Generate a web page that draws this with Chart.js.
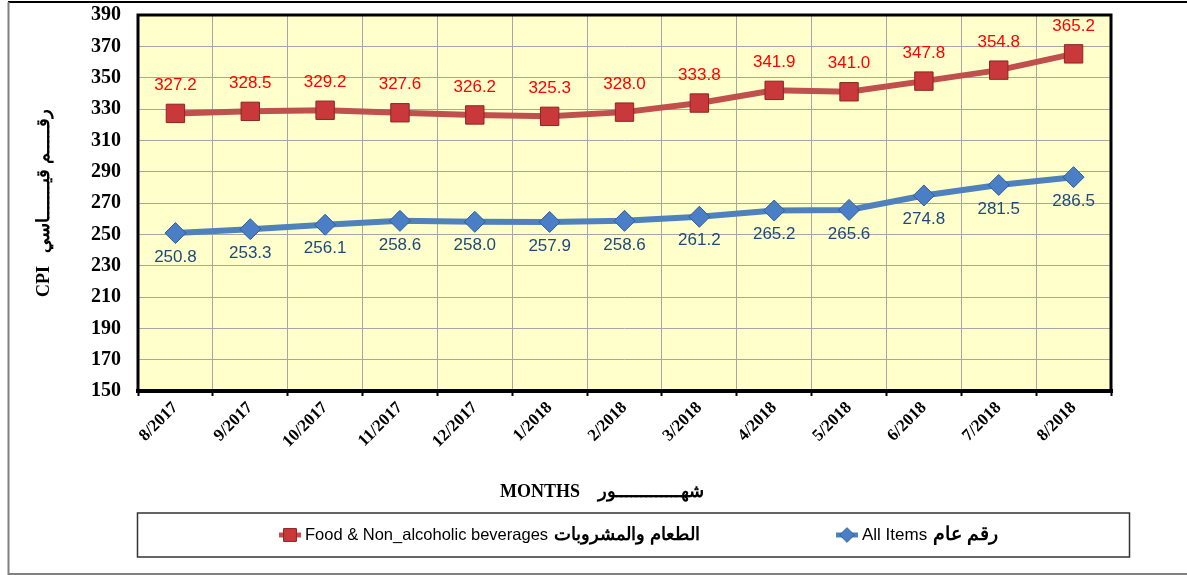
<!DOCTYPE html>
<html>
<head>
<meta charset="utf-8">
<title>CPI</title>
<script src="https://cdn.jsdelivr.net/npm/chart.js@4.4.1/dist/chart.umd.min.js"></script>
<style>
  html, body { margin: 0; padding: 0; background: #fff; }
  canvas { display: block; }
</style>
</head>
<body>
<canvas id="cpiChart" width="1187" height="575"></canvas>
<script>
// chart data
const months = ["8/2017", "9/2017", "10/2017", "11/2017", "12/2017", "1/2018", "2/2018",
                "3/2018", "4/2018", "5/2018", "6/2018", "7/2018", "8/2018"];
const foodValues = [327.2, 328.5, 329.2, 327.6, 326.2, 325.3, 328.0, 333.8, 341.9, 341.0, 347.8, 354.8, 365.2];
const allItemsValues = [250.8, 253.3, 256.1, 258.6, 258.0, 257.9, 258.6, 261.2, 265.2, 265.6, 274.8, 281.5, 286.5];
const seriesEn = ["Food & Non_alcoholic beverages", "All Items"];
const seriesAr = ["الطعام والمشروبات", "رقم عام"];
const yMin = 150, yMax = 390, yStep = 20;

const serif = "'Liberation Serif', 'Times New Roman', serif";
const sans = "'Liberation Sans', Arial, sans-serif";

// yellow plot background + frame around plot and outer border
const framePlugin = {
    id: 'frame',
    beforeDraw(chart) {
        const { ctx, chartArea: a } = chart;
        ctx.save();
        ctx.fillStyle = '#FFFFCC';
        ctx.fillRect(a.left, a.top, a.right - a.left, a.bottom - a.top);
        ctx.restore();
    },
    afterDraw(chart) {
        const { ctx, chartArea: a } = chart;
        ctx.save();
        ctx.strokeStyle = '#000';
        ctx.lineWidth = 3;
        ctx.strokeRect(a.left, a.top, a.right - a.left, a.bottom - a.top);
        ctx.lineWidth = 4;
        ctx.beginPath();
        ctx.moveTo(a.left - 2, a.bottom);
        ctx.lineTo(a.right + 2, a.bottom);
        ctx.stroke();

        // outer border
        ctx.lineWidth = 2;
        ctx.strokeStyle = '#000';
        ctx.beginPath();
        ctx.moveTo(8, 2);
        ctx.lineTo(1187, 2);
        ctx.stroke();
        ctx.strokeStyle = '#808080';
        ctx.beginPath();
        ctx.moveTo(8.5, 2);
        ctx.lineTo(8.5, 574);
        ctx.lineTo(1187, 574);
        ctx.stroke();
        ctx.restore();
    }
};

// value labels above / below points
const valueLabels = {
    id: 'valueLabels',
    afterDatasetsDraw(chart) {
        const { ctx } = chart;
        ctx.save();
        ctx.textAlign = 'center';
        ctx.textBaseline = 'middle';
        ctx.font = '17px ' + sans;
        chart.data.datasets.forEach((ds, i) => {
            const meta = chart.getDatasetMeta(i);
            ctx.fillStyle = ds.labelColor;
            meta.data.forEach((pt, j) => {
                ctx.fillText(ds.data[j].toFixed(1), pt.x, pt.y + ds.labelOffset);
            });
        });
        ctx.restore();
    }
};

// boxed legend at bottom
const boxLegend = {
    id: 'boxLegend',
    afterDraw(chart) {
        const { ctx } = chart;
        const xs = [290, 847];
        const enSize = [16.5, 17];
        const arSize = [18, 19];
        const y = 535;
        ctx.save();
        ctx.strokeStyle = '#333';
        ctx.lineWidth = 1.5;
        ctx.strokeRect(137.5, 513, 992, 44);
        chart.data.datasets.forEach((ds, i) => {
            const x = xs[i];
            ctx.strokeStyle = ds.borderColor;
            ctx.lineWidth = 5;
            ctx.beginPath();
            ctx.moveTo(x - 11, y);
            ctx.lineTo(x + 11, y);
            ctx.stroke();
            ctx.fillStyle = ds.pointBackgroundColor;
            ctx.strokeStyle = ds.pointBorderColor;
            ctx.lineWidth = 1;
            Chart.helpers.drawPoint(ctx, {
                pointStyle: ds.pointStyle, radius: ds.pointRadius * 0.7, rotation: 0, borderWidth: 1
            }, x, y);
            ctx.fillStyle = '#000';
            ctx.textBaseline = 'middle';
            ctx.textAlign = 'left';
            ctx.font = enSize[i] + 'px ' + sans;
            const tx = x + 15;
            ctx.fillText(seriesEn[i], tx, y);
            const w = ctx.measureText(seriesEn[i]).width;
            ctx.font = 'bold ' + arSize[i] + 'px ' + sans;
            ctx.fillText(seriesAr[i], tx + w + 6, y);
        });
        ctx.restore();
    }
};

const ctx = document.getElementById('cpiChart').getContext('2d');
const chart = new Chart(ctx, {
    type: 'line',
    data: {
        labels: months,
        datasets: [{
            label: seriesEn[0] + ' ' + seriesAr[0],
            data: foodValues,
            borderColor: '#C0504D',
            borderWidth: 6,
            pointStyle: 'rect',
            pointRadius: 13,
            pointBackgroundColor: '#C9383A',
            pointBorderColor: '#8E2426',
            pointBorderWidth: 1,
            labelColor: '#FF0000',
            labelOffset: -28,
            tension: 0
        }, {
            label: seriesEn[1] + ' ' + seriesAr[1],
            data: allItemsValues,
            borderColor: '#4F81BD',
            borderWidth: 6,
            pointStyle: 'rectRot',
            pointRadius: 10.5,
            pointBackgroundColor: '#4A7FC8',
            pointBorderColor: '#2E5E98',
            pointBorderWidth: 1,
            labelColor: '#1F497D',
            labelOffset: 24,
            tension: 0
        }]
    },
    options: {
        responsive: false,
        animation: false,
        layout: { padding: { left: 0, right: 76, top: 0, bottom: 0 } },
        plugins: {
            legend: { display: false },
            tooltip: { enabled: false }
        },
        scales: {
            x: {
                offset: true,
                afterFit: (scale) => { scale.height = 184; },
                grid: {
                    offset: true,
                    color: '#A6A6A6',
                    lineWidth: 1,
                    drawTicks: true,
                    tickLength: 5,
                    tickColor: '#000',
                    tickWidth: 2
                },
                border: { display: false },
                ticks: {
                    autoSkip: false,
                    minRotation: 45,
                    maxRotation: 45,
                    padding: 2,
                    color: '#000',
                    font: { family: serif, size: 17, weight: 'bold' }
                },
                title: {
                    display: true,
                    text: 'MONTHS    شهـــــــــــــور          ',
                    color: '#000',
                    font: { family: serif, size: 18, weight: 'bold' },
                    padding: { top: 0, bottom: 72 }
                }
            },
            y: {
                min: yMin,
                max: yMax,
                afterFit: (scale) => { scale.width = 138; },
                grid: {
                    color: '#A6A6A6',
                    lineWidth: 1,
                    drawTicks: true,
                    tickLength: 14,
                    tickColor: 'rgba(0,0,0,0)'
                },
                border: { display: false },
                ticks: {
                    stepSize: yStep,
                    padding: 3,
                    color: '#000',
                    font: { family: serif, size: 20, weight: 'bold' }
                },
                title: {
                    display: true,
                    text: 'CPI   رقـــــم قيـــــــاسي',
                    color: '#000',
                    font: { family: serif, size: 18, weight: 'bold' },
                    padding: { top: 34, bottom: 0 }
                }
            }
        }
    },
    plugins: [framePlugin, valueLabels, boxLegend]
});
</script>
</body>
</html>
